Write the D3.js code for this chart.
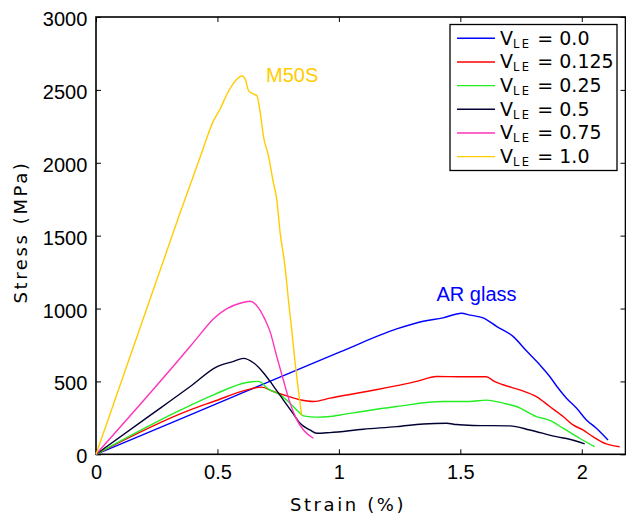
<!DOCTYPE html>
<html>
<head>
<meta charset="utf-8">
<script src="https://cdn.jsdelivr.net/npm/d3@7/dist/d3.min.js"></script>
<style>
  html, body { margin: 0; padding: 0; background: #fff; }
  svg { display: block; }
</style>
</head>
<body>
<svg id="chart" width="626" height="514"></svg>
<script>
// Stress-strain curves for hybrid yarns with varying V_LE fraction
// Each series: [strain (%), stress (MPa)]
const vle0 = [[0,0],[0.388,270],[1.005,702],[1.238,860],[1.347,913],[1.429,936],[1.505,968],
  [1.540,955],[1.594,936],[1.649,878],[1.717,809],[1.772,710],[1.827,614],[1.868,534],[1.900,460],
  [1.937,385],[1.978,317],[2.019,236],[2.060,179],[2.108,98]];

const vle0125 = [[0,0],[0.388,305],[0.484,362],[0.621,442],[0.682,461],[0.730,431],[0.785,401],
  [0.840,374],[0.895,362],[0.963,385],[1.114,431],[1.320,500],[1.402,534],[1.500,532],[1.607,532],
  [1.640,500],[1.676,477],[1.745,442],[1.813,396],[1.868,328],[1.923,259],[1.964,202],[2.005,167],
  [2.046,121],[2.101,71],[2.156,52]];

const vle025 = [[0,0],[0.347,303],[0.484,408],[0.621,493],[0.669,500],[0.710,447],[0.758,408],
  [0.799,351],[0.833,293],[0.854,264],[0.909,255],[0.963,259],[1.005,270],[1.238,328],[1.429,362],
  [1.539,362],[1.607,372],[1.676,351],[1.731,328],[1.813,259],[1.868,232],[1.923,179],[1.991,110],
  [2.053,52]];

const vle05 = [[0,0],[0.200,240],[0.388,465],[0.497,600],[0.566,637],[0.607,658],[0.648,628],
  [0.689,560],[0.730,470],[0.771,374],[0.813,276],[0.840,213],[0.881,167],[0.909,144],[0.963,149],
  [1.100,172],[1.238,190],[1.347,208],[1.443,213],[1.484,204],[1.553,198],[1.704,195],[1.786,167],
  [1.895,121],[1.950,103],[2.012,71]];

const vle075 = [[0,0],[0.388,741],[0.415,795],[0.484,930],[0.539,1000],[0.593,1036],[0.634,1050],
  [0.669,1005],[0.696,924],[0.717,840],[0.744,672],[0.771,511],[0.799,351],[0.827,236],
  [0.854,167],[0.895,110]];

const vle1 = [[0,0],[0.347,1660],[0.429,2040],[0.484,2289],[0.511,2369],[0.539,2470],[0.566,2545],
  [0.600,2595],[0.614,2576],[0.628,2495],[0.648,2472],[0.662,2461],[0.676,2346],[0.689,2185],
  [0.710,2048],[0.730,1865],[0.744,1750],[0.758,1521],[0.778,1291],[0.792,1062],[0.806,850],
  [0.820,626],[0.833,442],[0.847,264]];

const seriesData = [vle0, vle0125, vle025, vle05, vle075, vle1];
const seriesLabels = ["0.0", "0.125", "0.25", "0.5", "0.75", "1.0"];
const seriesColors = ["#0000ff", "#ff0000", "#22ee22", "#000033", "#ff33bb", "#ffcc00"];

const xTicks = [0, 0.5, 1, 1.5, 2];
const yTicks = [0, 500, 1000, 1500, 2000, 2500, 3000];

const svg = d3.select("#chart");
const plotLeft = 96, plotRight = 625.5, plotTop = 17, plotBottom = 454.3;

const x = d3.scaleLinear().domain([0, 2.18]).range([plotLeft, plotRight]);
const y = d3.scaleLinear().domain([0, 3000]).range([plotBottom, plotTop]);

const tickFont = "'Liberation Sans', Arial, sans-serif";
const labelFont = "'DejaVu Sans', sans-serif";

// Axes with inward ticks on all four sides
const axB = svg.append("g").attr("transform", `translate(0,${plotBottom})`)
  .call(d3.axisBottom(x).tickValues(xTicks).tickSizeInner(-5).tickSizeOuter(0)
    .tickFormat(d3.format("~g")));
const axT = svg.append("g").attr("transform", `translate(0,${plotTop})`)
  .call(d3.axisTop(x).tickValues(xTicks).tickSizeInner(-5).tickSizeOuter(0).tickFormat(""));
const axL = svg.append("g").attr("transform", `translate(${plotLeft},0)`)
  .call(d3.axisLeft(y).tickValues(yTicks).tickSizeInner(-5).tickSizeOuter(0)
    .tickFormat(d3.format("d")));
const axR = svg.append("g").attr("transform", `translate(${plotRight},0)`)
  .call(d3.axisRight(y).tickValues(yTicks).tickSizeInner(-5).tickSizeOuter(0).tickFormat(""));

[axB, axT, axL, axR].forEach(g => {
  g.select(".domain").remove();
  g.selectAll(".tick line").attr("stroke", "#000").attr("stroke-width", 1);
});

axB.selectAll(".tick text")
  .attr("font-family", tickFont).attr("font-size", 20).attr("fill", "#000")
  .attr("dy", null).attr("y", 25.2);
axL.selectAll(".tick text")
  .attr("font-family", tickFont).attr("font-size", 20).attr("fill", "#000")
  .attr("dy", null).attr("x", -8.7).attr("y", 8.5);

// Plot frame
svg.append("rect")
  .attr("x", plotLeft).attr("y", plotTop)
  .attr("width", plotRight - plotLeft).attr("height", plotBottom - plotTop)
  .attr("fill", "none").attr("stroke", "#000").attr("stroke-width", 1.6);

// Curves
const line = d3.line().x(d => x(d[0])).y(d => y(d[1])).curve(d3.curveMonotoneX);
svg.append("g").selectAll("path")
  .data(seriesData)
  .join("path")
  .attr("d", line)
  .attr("fill", "none")
  .attr("stroke", (d, i) => seriesColors[i])
  .attr("stroke-width", 1.4)
  .attr("stroke-linejoin", "round");

// Curve annotations
svg.append("text").attr("x", x(0.700)).attr("y", y(2555))
  .attr("font-family", tickFont).attr("font-size", 20).attr("fill", "#ffcc00")
  .text("M50S");
svg.append("text").attr("x", x(1.402)).attr("y", y(1052))
  .attr("font-family", tickFont).attr("font-size", 20).attr("fill", "#0000ff")
  .text("AR glass");

// Axis titles
svg.append("text")
  .attr("x", 348).attr("y", 511)
  .attr("text-anchor", "middle")
  .attr("font-family", labelFont).attr("font-size", 18).attr("letter-spacing", 2.6)
  .attr("fill", "#000")
  .text("Strain (%)");
svg.append("text")
  .attr("transform", "translate(26.5,232) rotate(-90)")
  .attr("text-anchor", "middle")
  .attr("font-family", labelFont).attr("font-size", 18).attr("letter-spacing", 2.6)
  .attr("fill", "#000")
  .text("Stress (MPa)");

// Legend
const legend = svg.append("g");
legend.append("rect")
  .attr("x", 450).attr("y", 24.5).attr("width", 167).attr("height", 146)
  .attr("fill", "#fff").attr("stroke", "#000").attr("stroke-width", 1.3);

const rowY = i => 38.3 + i * 23.67;
seriesLabels.forEach((lab, i) => {
  legend.append("line")
    .attr("x1", 457).attr("x2", 495)
    .attr("y1", rowY(i)).attr("y2", rowY(i))
    .attr("stroke", seriesColors[i]).attr("stroke-width", 1.4);
  const t = legend.append("text")
    .attr("x", 500).attr("y", rowY(i) + 6.5)
    .attr("font-family", labelFont).attr("font-size", 19).attr("fill", "#000");
  t.append("tspan").text("V");
  t.append("tspan").attr("dy", 3).attr("font-size", 11.5).attr("letter-spacing", 2.3).text("LE");
  t.append("tspan").attr("dy", -3).attr("xml:space", "preserve").text(" = " + lab);
});
</script>
</body>
</html>
